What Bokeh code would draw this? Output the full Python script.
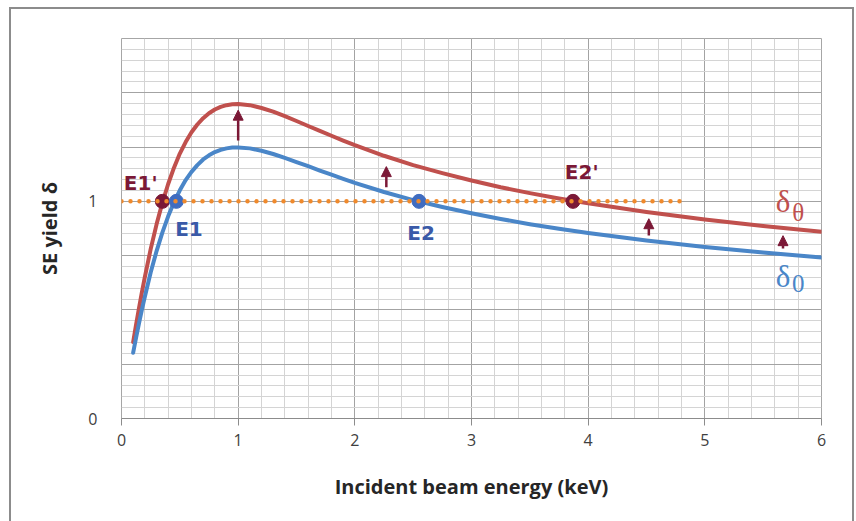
from bokeh.plotting import figure
from bokeh.models import (Range1d, FixedTicker, Arrow, NormalHead, ColumnDataSource)
from bokeh.core.properties import value
from bokeh.embed import file_html
from bokeh.resources import INLINE

# ---- data ----
energy = [0.1, 0.125, 0.15, 0.175, 0.2, 0.25, 0.3, 0.35, 0.4, 0.45, 0.5, 0.55, 0.6, 0.65,
          0.7, 0.75, 0.8, 0.85, 0.9, 0.95, 1.0, 1.1, 1.2, 1.3, 1.4, 1.5, 1.6, 1.7, 1.8,
          1.9, 2.0, 2.25, 2.5, 2.75, 3.0, 3.25, 3.5, 3.75, 4.0, 4.5, 5.0, 5.5, 6.0]
delta0 = [0.303, 0.373, 0.438, 0.502, 0.561, 0.672, 0.770, 0.856, 0.931, 0.996, 1.051,
          1.098, 1.136, 1.167, 1.193, 1.212, 1.227, 1.237, 1.244, 1.248, 1.248, 1.244,
          1.233, 1.218, 1.200, 1.181, 1.162, 1.142, 1.123, 1.104, 1.085, 1.043, 1.006,
          0.974, 0.945, 0.919, 0.895, 0.874, 0.854, 0.820, 0.790, 0.764, 0.741]
delta_theta = [0.352, 0.432, 0.508, 0.582, 0.651, 0.780, 0.893, 0.993, 1.080, 1.155, 1.220,
               1.273, 1.318, 1.354, 1.383, 1.406, 1.423, 1.435, 1.443, 1.447, 1.448, 1.443,
               1.430, 1.413, 1.392, 1.370, 1.347, 1.325, 1.302, 1.280, 1.259, 1.210, 1.167,
               1.130, 1.096, 1.065, 1.038, 1.013, 0.991, 0.951, 0.916, 0.886, 0.860]

unity_x = [0.0, 4.84]
unity_y = [1.0, 1.0]

point_names = ["E1'", "E1", "E2", "E2'"]
point_x = [0.35, 0.47, 2.55, 3.87]
point_y = [1.0, 1.0, 1.0, 1.0]
point_colors = ["#7b1836", "#3f6cc0", "#3f6cc0", "#7b1836"]
label_colors = ["#7b1836", "#3a5aa8", "#3a5aa8", "#7b1836"]

label_x = [0.02, 0.46, 2.45, 3.8]
label_y = [1.085, 0.875, 0.855, 1.135]

arrow_x = [1.0, 2.27, 4.52, 5.67]
arrow_y0 = [1.28, 1.065, 0.843, 0.783]
arrow_y1 = [1.42, 1.16, 0.92, 0.842]

x_ticks = [0, 1, 2, 3, 4, 5, 6]
y_ticks = [0, 1]

RED = "#c0504d"
BLUE = "#4a86c8"
MAROON = "#7b1836"

p = figure(width=841, height=512, output_backend="svg", toolbar_location=None,
           x_range=Range1d(0, 6), y_range=Range1d(0, 1.75),
           min_border_left=110, min_border_right=31, min_border_top=29, min_border_bottom=103)
p.margin = (9, 0, 0, 11)
p.styles = {"box-shadow": "0 0 0 2px #8c8c8c"}
p.background_fill_color = "white"
p.border_fill_color = "white"
p.outline_line_color = "#a6a6a6"
p.outline_line_width = 1

# grids
xmaj = [i * 1.0 for i in range(0, 7)]
xmin = [i * 0.2 for i in range(0, 31)]
ymaj = [i * 0.25 for i in range(0, 8)]
ymin = [i * 0.05 for i in range(0, 36)]
p.xgrid.ticker = FixedTicker(ticks=xmaj, minor_ticks=xmin)
p.ygrid.ticker = FixedTicker(ticks=ymaj, minor_ticks=ymin)
for g in (p.xgrid, p.ygrid):
    g.grid_line_color = "#a3a3a3"
    g.grid_line_width = 1
    g.minor_grid_line_color = "#d4d4d4"
    g.minor_grid_line_width = 1

# x axis
p.xaxis.ticker = FixedTicker(ticks=x_ticks)
p.xaxis.axis_line_color = "#8c8c8c"
p.xaxis.major_tick_line_color = "#8c8c8c"
p.xaxis.major_tick_out = 7
p.xaxis.major_tick_in = 0
p.xaxis.minor_tick_line_color = None
p.xaxis.major_label_text_font = "Open Sans"
p.xaxis.major_label_text_font_size = "16px"
p.xaxis.major_label_text_color = "#404040"
p.xaxis.major_label_standoff = 8
p.xaxis.axis_label = "Incident beam energy (keV)"
p.xaxis.axis_label_text_font = "Open Sans"
p.xaxis.axis_label_text_font_style = "bold"
p.xaxis.axis_label_text_font_size = "20px"
p.xaxis.axis_label_text_color = "#262626"
p.xaxis.axis_label_standoff = 24

# y axis
p.yaxis.ticker = FixedTicker(ticks=y_ticks)
p.yaxis.axis_line_color = None
p.yaxis.major_tick_line_color = None
p.yaxis.minor_tick_line_color = None
p.yaxis.major_label_text_font = "Open Sans"
p.yaxis.major_label_text_font_size = "16px"
p.yaxis.major_label_text_color = "#404040"
p.yaxis.major_label_standoff = 18
p.yaxis.axis_label = "SE yield δ"
p.yaxis.axis_label_text_font = "Open Sans"
p.yaxis.axis_label_text_font_style = "bold"
p.yaxis.axis_label_text_font_size = "20px"
p.yaxis.axis_label_text_color = "#262626"
p.yaxis.axis_label_standoff = 22

# curves
p.line(energy, delta_theta, line_color=RED, line_width=4, line_join="round", line_cap="round")
p.line(energy, delta0, line_color=BLUE, line_width=4, line_join="round", line_cap="round")

# crossing points
p.scatter(point_x, point_y, size=14, fill_color=point_colors, line_color=point_colors)

# unity dotted line
p.line(unity_x, unity_y, line_color="#f08a2c", line_width=4.5, line_dash="0 9", line_cap="round")

# labels
src = ColumnDataSource(dict(x=label_x, y=label_y, t=point_names, c=label_colors))
p.text(x="x", y="y", text="t", text_color="c", source=src, text_font=value("DejaVu Sans"),
       text_font_style="bold", text_font_size="20px", text_align="left", text_baseline="middle")

# arrows
for ax, ay0, ay1 in zip(arrow_x, arrow_y0, arrow_y1):
    p.add_layout(Arrow(end=NormalHead(size=10, fill_color=MAROON, line_color=MAROON),
                       x_start=ax, y_start=ay0, x_end=ax, y_end=ay1,
                       line_color=MAROON, line_width=2.5))

# curve names (delta with subscripts)
p.text(x=[5.67], y=[1.0], text=["δ"], text_color=RED, text_font=value("Liberation Serif"),
       text_font_size="31px", text_align="center", text_baseline="middle")
p.text(x=[5.80], y=[0.95], text=["θ"], text_color=RED, text_font=value("Liberation Serif"),
       text_font_size="25px", text_align="center", text_baseline="middle")
p.text(x=[5.67], y=[0.655], text=["δ"], text_color=BLUE, text_font=value("Liberation Serif"),
       text_font_size="31px", text_align="center", text_baseline="middle")
p.text(x=[5.80], y=[0.62], text=["0"], text_color=BLUE, text_font=value("Liberation Serif"),
       text_font_size="25px", text_align="center", text_baseline="middle")

open("out.html", "w").write(file_html(p, INLINE))
